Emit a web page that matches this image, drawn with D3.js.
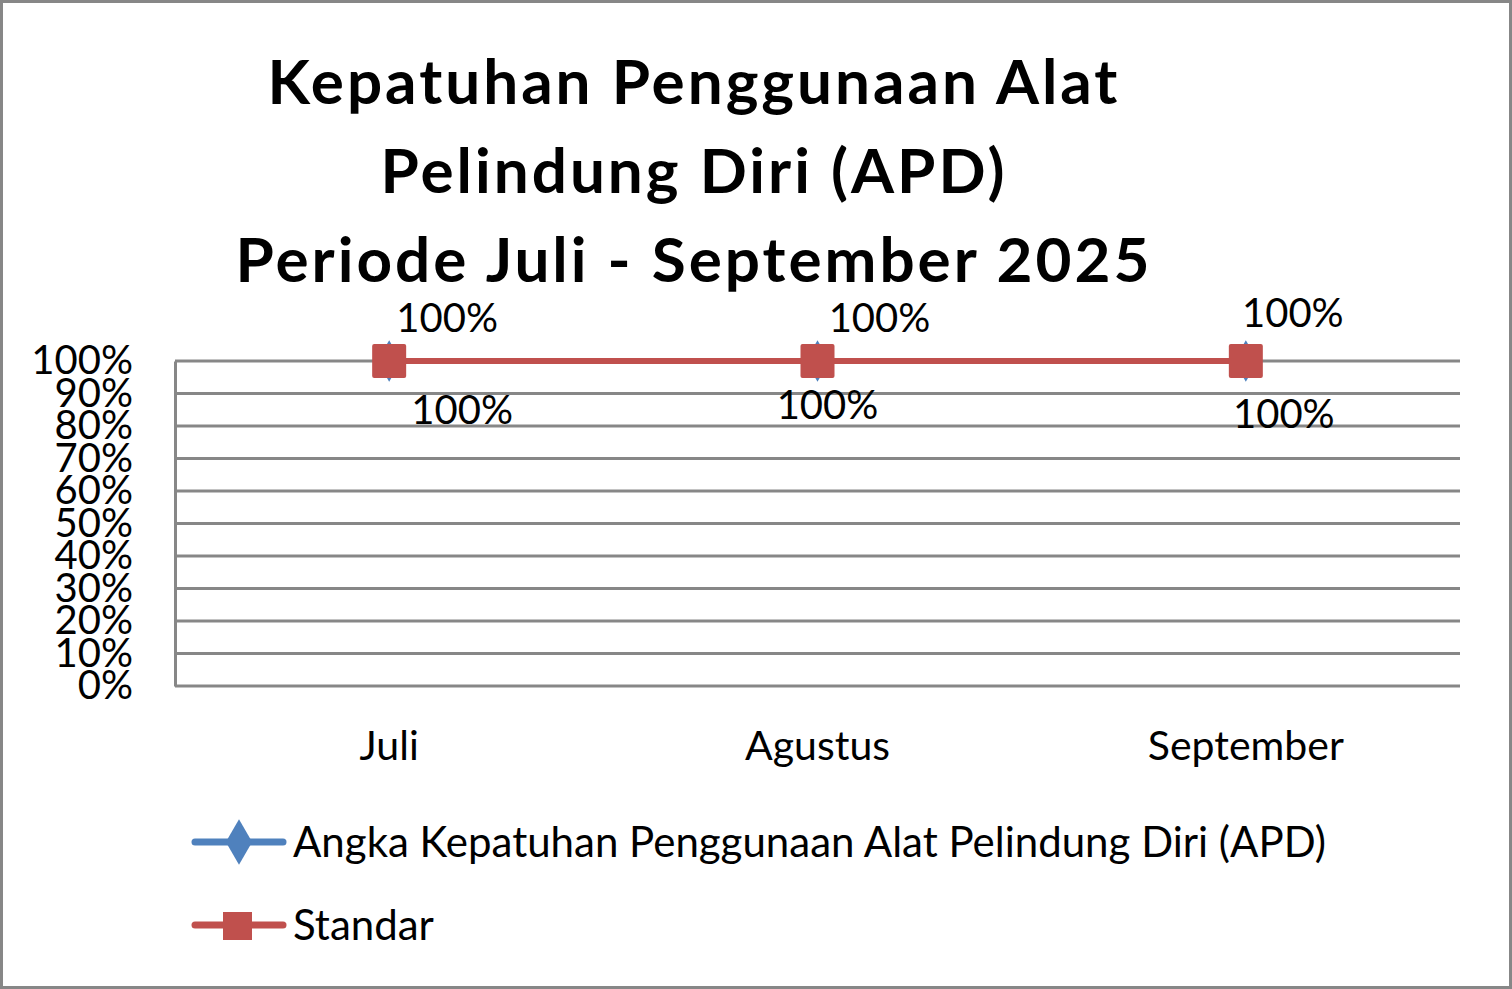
<!DOCTYPE html>
<html><head><meta charset="utf-8">
<script src="https://cdn.jsdelivr.net/npm/d3@7"></script>
<style>
html,body{margin:0;padding:0;background:#fff;}
svg{display:block;font-family:Lato,"Open Sans",sans-serif;}
</style></head>
<body>
<svg id="chart" width="1512" height="989"></svg>
<script>
const categories = ["Juli", "Agustus", "September"];
const complianceValues = [1.0, 1.0, 1.0];
const standardValues = [1.0, 1.0, 1.0];
const seriesNames = ["Angka Kepatuhan Penggunaan Alat Pelindung Diri (APD)", "Standar"];
const yTicks = [0, 0.1, 0.2, 0.3, 0.4, 0.5, 0.6, 0.7, 0.8, 0.9, 1.0];
const titleLines = ["Kepatuhan Penggunaan Alat", "Pelindung Diri (APD)", "Periode Juli - September 2025"];

// label nudges (layout), per category
const blueLabelOffsets = [[73, 63], [10, 58], [38, 67]];
const redLabelOffsets = [[58, -29], [62, -29], [47, -34]];

const svg = d3.select("#chart");
const W = 1512, H = 989;
const blue = "#4F81BD", red = "#C0504D", grid = "#878787";

svg.append("rect").attr("x", 1.5).attr("y", 1.5).attr("width", W - 3).attr("height", H - 3)
  .attr("fill", "#fff").attr("stroke", grid).attr("stroke-width", 3);

// title
const title = svg.append("text").attr("text-anchor", "middle").attr("font-weight", "bold")
  .attr("font-size", 62).attr("letter-spacing", 3).attr("fill", "#000");
titleLines.forEach((t, i) => {
  title.append("tspan").attr("x", 694).attr("y", 104 + i * 89).text(t);
});

const plot = {left: 175, right: 1460, top: 361, bottom: 686};
const x = d3.scaleBand().domain(categories).range([plot.left, plot.right]);
const y = d3.scaleLinear().domain([0, 1]).range([plot.bottom, plot.top]);
const cx = c => x(c) + x.bandwidth() / 2;

// gridlines
svg.append("g").selectAll("line").data(yTicks).join("line")
  .attr("x1", plot.left).attr("x2", plot.right)
  .attr("y1", d => y(d)).attr("y2", d => y(d))
  .attr("stroke", grid).attr("stroke-width", 3);

// y axis
const yAxis = svg.append("g").attr("transform", `translate(${plot.left},0)`)
  .call(d3.axisLeft(y).tickValues(yTicks).tickFormat(d3.format(".0%")).tickSize(0).tickPadding(42));
yAxis.select(".domain").attr("stroke", grid).attr("stroke-width", 3);
yAxis.selectAll("text").attr("font-size", 40).attr("fill", "#000").attr("font-family", "Lato");

// x axis labels
const xAxis = svg.append("g").attr("transform", `translate(0,${plot.bottom})`)
  .call(d3.axisBottom(x).tickSize(0).tickPadding(45));
xAxis.select(".domain").remove();
xAxis.selectAll("text").attr("font-size", 41).attr("fill", "#000").attr("font-family", "Lato");

// series
const line = d3.line().x((d, i) => cx(categories[i])).y(d => y(d));
svg.append("path").datum(complianceValues).attr("d", line).attr("fill", "none")
  .attr("stroke", blue).attr("stroke-width", 5);
svg.append("g").selectAll("path").data(complianceValues).join("path")
  .attr("d", d3.symbol(d3.symbolDiamond, 500))
  .attr("transform", (d, i) => `translate(${cx(categories[i])},${y(d)})`)
  .attr("fill", blue);
svg.append("path").datum(standardValues).attr("d", line).attr("fill", "none")
  .attr("stroke", red).attr("stroke-width", 6);
svg.append("g").selectAll("rect").data(standardValues).join("rect")
  .attr("x", (d, i) => cx(categories[i]) - 17).attr("y", d => y(d) - 17)
  .attr("width", 34).attr("height", 34).attr("rx", 2).attr("fill", red);

// data labels
const fmt = d3.format(".0%");
svg.append("g").selectAll("text").data(complianceValues).join("text")
  .attr("x", (d, i) => cx(categories[i]) + blueLabelOffsets[i][0])
  .attr("y", (d, i) => y(d) + blueLabelOffsets[i][1])
  .attr("text-anchor", "middle").attr("font-size", 40).attr("fill", "#000").text(fmt);
svg.append("g").selectAll("text").data(standardValues).join("text")
  .attr("x", (d, i) => cx(categories[i]) + redLabelOffsets[i][0])
  .attr("y", (d, i) => y(d) + redLabelOffsets[i][1])
  .attr("text-anchor", "middle").attr("font-size", 40).attr("fill", "#000").text(fmt);

// legend
const legend = svg.append("g");
const legendColors = [blue, red];
seriesNames.forEach((name, i) => {
  const ly = 842 + i * 83;
  const g = legend.append("g");
  g.append("line").attr("x1", 195).attr("x2", 283).attr("y1", ly).attr("y2", ly)
    .attr("stroke", legendColors[i]).attr("stroke-width", 7).attr("stroke-linecap", "round");
  if (i === 0) {
    g.append("path").attr("d", d3.symbol(d3.symbolDiamond, 600)).attr("transform", `translate(239,${ly})`).attr("fill", blue);
  } else {
    g.append("rect").attr("x", 223).attr("y", ly - 13).attr("width", 29).attr("height", 28).attr("fill", red);
  }
  g.append("text").attr("x", 293).attr("y", ly + 15).attr("font-size", 42).attr("fill", "#000").text(name);
});
</script>
</body></html>
